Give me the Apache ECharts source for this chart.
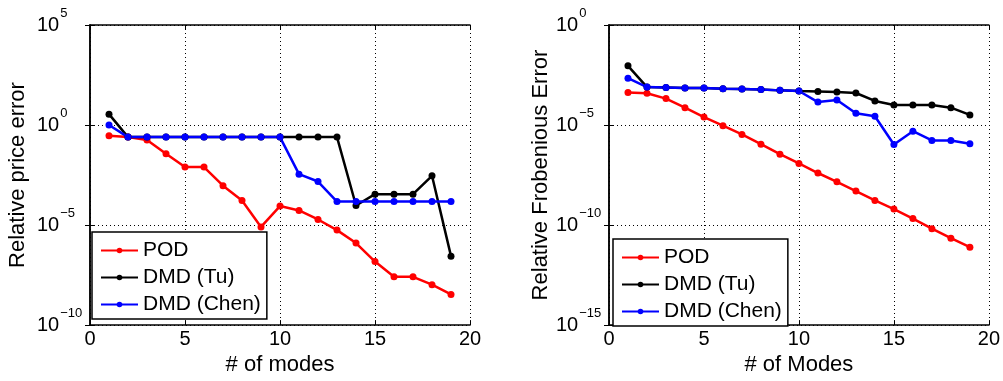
<!DOCTYPE html>
<html>
<head>
<meta charset="utf-8">
<script src="https://cdn.jsdelivr.net/npm/echarts@6/dist/echarts.min.js"></script>
<style>
  html, body { margin: 0; padding: 0; background: #fff; }
  #chart { width: 1003px; height: 381px; }
</style>
</head>
<body>
<div id="chart"></div>
<script>
// number of modes (x axis)
const modes = [1, 2, 3, 4, 5, 6, 7, 8, 9, 10, 11, 12, 13, 14, 15, 16, 17, 18, 19];
const seriesNames = ["POD", "DMD (Tu)", "DMD (Chen)"];
const seriesColors = ["#ff0000", "#000000", "#0000ff"];

// left panel: relative price error
const pricePOD = [2.95e-1, 2.5e-1, 1.8e-1, 3.7e-2, 7.9e-3, 7.9e-3, 9.3e-4, 1.7e-4, 8.1e-6, 8.9e-5,
  5.4e-5, 1.9e-5, 5.6e-6, 1.26e-6, 1.5e-7, 2.6e-8, 2.6e-8, 1.05e-8, 3.4e-9];
const priceTu = [3.5, 2.5e-1, 2.5e-1, 2.5e-1, 2.5e-1, 2.5e-1, 2.5e-1, 2.5e-1, 2.5e-1, 2.5e-1,
  2.5e-1, 2.5e-1, 2.5e-1, 9.5e-5, 3.5e-4, 3.5e-4, 3.5e-4, 2.9e-3, 2.8e-7];
const priceChen = [1.0, 2.5e-1, 2.5e-1, 2.5e-1, 2.5e-1, 2.5e-1, 2.5e-1, 2.5e-1, 2.5e-1, 2.5e-1,
  3.5e-3, 1.5e-3, 1.5e-4, 1.5e-4, 1.5e-4, 1.5e-4, 1.5e-4, 1.5e-4, 1.5e-4];

// right panel: relative Frobenius error
const frobPOD = [4.2e-4, 3.9e-4, 2.1e-4, 7.4e-5, 2.5e-5, 9.3e-6, 3.4e-6, 1.1e-6, 3.5e-7, 1.2e-7,
  4.0e-8, 1.45e-8, 5.0e-9, 1.7e-9, 6.3e-10, 2.1e-10, 6.6e-11, 2.2e-11, 7.8e-12];
const frobTu = [9.1e-3, 7.9e-4, 7.6e-4, 7.1e-4, 7.1e-4, 6.5e-4, 6.3e-4, 6.0e-4, 5.4e-4, 5.0e-4,
  4.8e-4, 4.5e-4, 4.0e-4, 1.6e-4, 1.0e-4, 1.0e-4, 1.0e-4, 7.4e-5, 3.2e-5];
const frobChen = [2.2e-3, 7.9e-4, 7.6e-4, 7.1e-4, 7.1e-4, 6.5e-4, 6.3e-4, 6.0e-4, 5.4e-4, 5.0e-4,
  1.4e-4, 1.8e-4, 3.9e-5, 2.75e-5, 1.07e-6, 4.9e-6, 1.7e-6, 1.7e-6, 1.17e-6];

// axis ranges / ticks
const xTicks = { min: 0, max: 20, interval: 5 };
const priceRange = { min: 1e-10, max: 1e5 };
const frobRange = { min: 1e-15, max: 1e0 };

const chart = echarts.init(document.getElementById("chart"));

const FONT = "Liberation Sans, Arial, sans-serif";

// 10^n label as rich text
const powLabel = (v) => {
  const e = Math.round(Math.log10(v));
  return "{b|10}{s|" + String(e).replace("-", "\u2212") + "}";
};

const makeX = (gridIndex, bottom, name) => ({
  type: "value",
  gridIndex,
  position: bottom ? "bottom" : "top",
  min: xTicks.min,
  max: xTicks.max,
  interval: xTicks.interval,
  name: bottom ? name : "",
  nameLocation: "middle",
  nameGap: 26,
  nameTextStyle: { fontFamily: FONT, fontSize: 22, color: "#000" },
  axisLine: { show: true, lineStyle: { color: "#000", width: 1.5 } },
  axisTick: { show: true, inside: true, length: 5, lineStyle: { color: "#000" } },
  axisLabel: {
    show: bottom,
    margin: 4,
    fontFamily: FONT,
    fontSize: 20,
    color: "#000",
  },
  splitLine: bottom
    ? { show: true, lineStyle: { color: "#000", type: [1, 3], width: 1 } }
    : { show: false },
});

const makeY = (gridIndex, left, range, name, nameGap) => ({
  type: "log",
  logBase: 10,
  gridIndex,
  position: left ? "left" : "right",
  min: range.min,
  max: range.max,
  interval: 5,
  name: left ? name : "",
  nameLocation: "middle",
  nameGap,
  nameTextStyle: { fontFamily: FONT, fontSize: 22, color: "#000" },
  axisLine: { show: true, lineStyle: { color: "#000", width: 1.5 } },
  axisTick: { show: true, inside: true, length: 5, lineStyle: { color: "#000" } },
  minorTick: { show: false },
  axisLabel: {
    show: left,
    margin: 53,
    align: "left",
    formatter: powLabel,
    rich: {
      b: { fontFamily: FONT, fontSize: 20, color: "#000" },
      s: { fontFamily: FONT, fontSize: 13, color: "#000", padding: [0, 0, 24, 1] },
    },
  },
  splitLine: left
    ? { show: true, lineStyle: { color: "#000", type: [1, 3], width: 1 } }
    : { show: false },
});

const makeSeries = (name, values, color, axisIndex) => ({
  name,
  type: "line",
  xAxisIndex: axisIndex,
  yAxisIndex: axisIndex,
  data: modes.map((m, i) => [m, values[i]]),
  symbol: "circle",
  symbolSize: 7,
  showSymbol: true,
  lineStyle: { color, width: 2.5 },
  itemStyle: { color },
  animation: false,
});

const makeLegend = (left, top) => ({
  data: seriesNames,
  orient: "vertical",
  left,
  top,
  itemWidth: 37,
  itemHeight: 7,
  itemGap: 6,
  padding: [8, 6, 4, 8],
  backgroundColor: "#fff",
  borderColor: "#000",
  borderWidth: 1.5,
  textStyle: { fontFamily: FONT, fontSize: 21, color: "#000" },
  selectedMode: false,
});

const option = {
  backgroundColor: "#fff",
  animation: false,
  grid: [
    { left: 90, top: 25, width: 380, height: 305 },
    { left: 609, top: 25, width: 381, height: 305 },
  ],
  xAxis: [
    makeX(0, true, "# of modes"),
    makeX(1, true, "# of Modes"),
    makeX(0, false, ""),
    makeX(1, false, ""),
  ],
  yAxis: [
    makeY(0, true, priceRange, "Relative price error", 61),
    makeY(1, true, frobRange, "Relative Frobenious Error", 54),
    makeY(0, false, priceRange, "", 0),
    makeY(1, false, frobRange, "", 0),
  ],
  legend: [makeLegend(92, 232), makeLegend(613, 239)],
  series: [
    makeSeries(seriesNames[0], pricePOD, seriesColors[0], 0),
    makeSeries(seriesNames[1], priceTu, seriesColors[1], 0),
    makeSeries(seriesNames[2], priceChen, seriesColors[2], 0),
    makeSeries(seriesNames[0], frobPOD, seriesColors[0], 1),
    makeSeries(seriesNames[1], frobTu, seriesColors[1], 1),
    makeSeries(seriesNames[2], frobChen, seriesColors[2], 1),
  ],
};

chart.setOption(option);

window.addEventListener("resize", () => {
  chart.resize();
});
</script>
</body>
</html>
